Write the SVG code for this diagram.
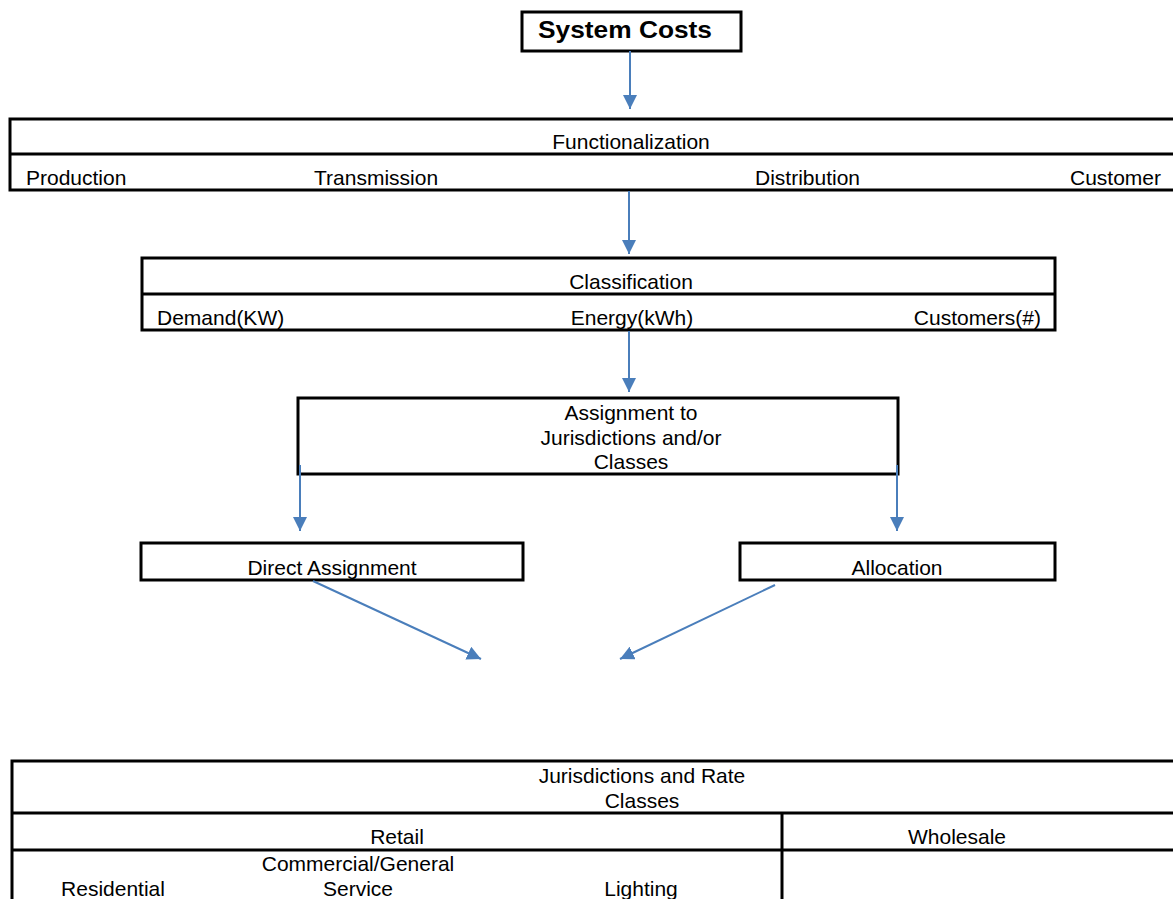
<svg xmlns="http://www.w3.org/2000/svg" width="1173" height="899" viewBox="0 0 1173 899">
<style>
.box{fill:#fff;stroke:#000;stroke-width:3}
.ln{stroke:#000;stroke-width:3;fill:none}
.t{font-family:"Liberation Sans",Arial,sans-serif;font-size:21px;fill:#000}
.m{text-anchor:middle}
.c{stroke:#4a7ebb;stroke-width:2;fill:none}
</style>
<defs>
<marker id="a" markerWidth="14" markerHeight="14" refX="14" refY="7" orient="auto" markerUnits="userSpaceOnUse" viewBox="0 0 14 14">
<path d="M0,0 L14,7 L0,14 Z" fill="#4a7ebb"/>
</marker>
</defs>
<rect width="1173" height="899" fill="#fff"/>
<g id="system-costs">
<rect class="box" x="522" y="12" width="219" height="39"/>
<text class="t" x="538" y="38" style="font-weight:bold;font-size:24px" textLength="174" lengthAdjust="spacingAndGlyphs">System Costs</text>
</g>
<g id="functionalization">
<rect class="box" x="10" y="119" width="1175" height="71"/>
<line class="ln" x1="10" y1="154" x2="1173" y2="154"/>
<text class="t m" x="631" y="149">Functionalization</text>
<text class="t" x="26" y="185">Production</text>
<text class="t" x="314" y="185">Transmission</text>
<text class="t" x="755" y="185">Distribution</text>
<text class="t" x="1070" y="185">Customer</text>
</g>
<g id="classification">
<rect class="box" x="142" y="258" width="913" height="72"/>
<line class="ln" x1="142" y1="294" x2="1055" y2="294"/>
<text class="t m" x="631" y="289">Classification</text>
<text class="t" x="157" y="325">Demand(KW)</text>
<text class="t m" x="632" y="325">Energy(kWh)</text>
<text class="t" x="1041" y="325" text-anchor="end">Customers(#)</text>
</g>
<g id="assignment">
<rect class="box" x="298" y="398" width="600" height="76"/>
<text class="t m" x="631" y="420">Assignment to</text>
<text class="t m" x="631" y="445">Jurisdictions and/or</text>
<text class="t m" x="631" y="469">Classes</text>
</g>
<g id="direct-assignment">
<rect class="box" x="141" y="543" width="382" height="37"/>
<text class="t m" x="332" y="575">Direct Assignment</text>
</g>
<g id="allocation">
<rect class="box" x="740" y="543" width="315" height="37"/>
<text class="t m" x="897" y="575">Allocation</text>
</g>
<g id="jurisdictions">
<rect class="box" x="12" y="761" width="1175" height="160"/>
<line class="ln" x1="12" y1="813" x2="1173" y2="813"/>
<line class="ln" x1="12" y1="850" x2="1173" y2="850"/>
<line class="ln" x1="782" y1="813" x2="782" y2="899"/>
<text class="t m" x="642" y="783">Jurisdictions and Rate</text>
<text class="t m" x="642" y="808">Classes</text>
<text class="t m" x="397" y="844">Retail</text>
<text class="t m" x="957" y="844">Wholesale</text>
<text class="t m" x="358" y="871">Commercial/General</text>
<text class="t m" x="358" y="896">Service</text>
<text class="t m" x="113" y="896">Residential</text>
<text class="t m" x="641" y="896">Lighting</text>
</g>
<g id="connectors">
<line class="c" x1="630" y1="51" x2="630" y2="109" marker-end="url(#a)"/>
<line class="c" x1="629" y1="191" x2="629" y2="254" marker-end="url(#a)"/>
<line class="c" x1="629" y1="331" x2="629" y2="392" marker-end="url(#a)"/>
<line class="c" x1="300" y1="465" x2="300" y2="531" marker-end="url(#a)"/>
<line class="c" x1="897" y1="465" x2="897" y2="531" marker-end="url(#a)"/>
<line class="c" x1="313" y1="581" x2="481" y2="659" marker-end="url(#a)"/>
<line class="c" x1="775" y1="585" x2="620" y2="659" marker-end="url(#a)"/>
</g>
</svg>
